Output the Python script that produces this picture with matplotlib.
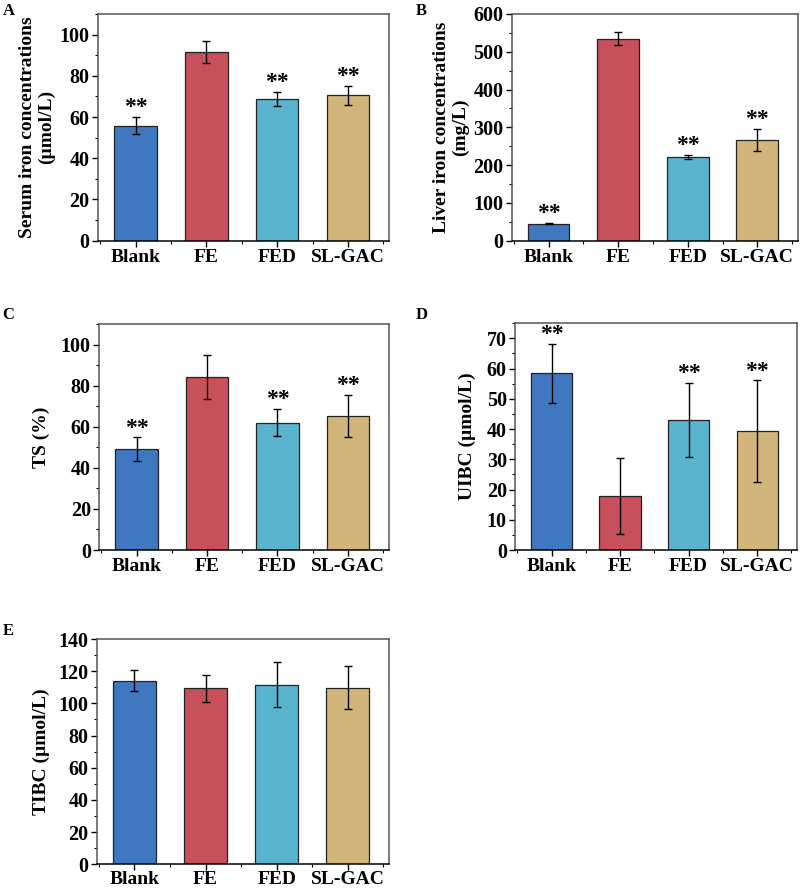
import matplotlib
matplotlib.use("Agg")
import matplotlib.pyplot as plt
from matplotlib.ticker import MultipleLocator, AutoMinorLocator
import numpy as np

groups = ["Blank", "FE", "FED", "SL-GAC"]
colors = ["#3F78C0", "#C8505A", "#5BB4CE", "#D2B57B"]

serum_iron = [55.8, 91.6, 68.7, 70.5]
serum_iron_err = [4.2, 5.4, 3.4, 4.5]
serum_iron_sig = ["**", "", "**", "**"]

liver_iron = [45, 535, 221, 266]
liver_iron_err = [2, 18, 6, 30]
liver_iron_sig = ["**", "", "**", "**"]

ts = [49.1, 84.3, 62.0, 65.3]
ts_err = [5.8, 10.8, 6.7, 10.3]
ts_sig = ["**", "", "**", "**"]

uibc = [58.4, 17.9, 43.1, 39.3]
uibc_err = [9.8, 12.6, 12.2, 16.8]
uibc_sig = ["**", "", "**", "**"]

tibc = [114.2, 109.3, 111.6, 109.8]
tibc_err = [6.8, 8.3, 14.0, 13.2]
tibc_sig = ["", "", "", ""]

plt.rcParams["font.family"] = ["Liberation Serif", "DejaVu Serif"]
plt.rcParams["font.weight"] = "bold"

fig = plt.figure(figsize=(8, 8.9), dpi=100)


def panel(rect, letter, vals, errs, sig, ylabel, ymax, ystep, letter_xy, pad=4, xpad=2):
    ax = fig.add_axes(rect)
    x = np.arange(len(groups))
    ax.bar(x, vals, width=0.6, color=colors, edgecolor="#222222", linewidth=0.9, zorder=2)
    ax.errorbar(x, vals, yerr=errs, fmt="none", ecolor="black", elinewidth=1.0,
                capsize=3, capthick=1.0, zorder=3)
    for xi, v, e, s in zip(x, vals, errs, sig):
        if s:
            ax.annotate(s, (xi, v + e), xytext=(0, -1), textcoords="offset points",
                        ha="center", va="bottom", fontsize=17, fontweight="bold")
    ax.set_xlim(-0.53, 3.58)
    ax.set_ylim(0, ymax)
    ax.set_xticks(x)
    ax.set_xticklabels(groups, fontsize=14, fontweight="bold")
    ax.xaxis.set_minor_locator(MultipleLocator(0.5))
    ax.yaxis.set_major_locator(MultipleLocator(ystep))
    ax.yaxis.set_minor_locator(AutoMinorLocator(2))
    ax.tick_params(axis="y", labelsize=14.5, direction="out", length=4, width=1, pad=2)
    ax.tick_params(axis="x", direction="out", length=4, width=1, pad=xpad)
    ax.tick_params(which="minor", direction="out", length=2, width=0.8)
    for lab in ax.get_yticklabels():
        lab.set_fontweight("bold")
    ax.set_ylabel(ylabel, fontsize=14, fontweight="bold", linespacing=1.15, labelpad=pad)
    for sp in ["top", "right", "left"]:
        ax.spines[sp].set_color("#555555")
    ax.spines["bottom"].set_color("black")
    for sp in ax.spines.values():
        sp.set_linewidth(1.1)
    fig.text(letter_xy[0], letter_xy[1], letter, fontsize=12, fontweight="bold",
             ha="left", va="top")
    return ax


panel([0.1225, 0.7296, 0.3638, 0.2547], "A", serum_iron, serum_iron_err, serum_iron_sig,
      "Serum iron concentrations\n(\u00b5mol/L)", 110, 20, (0.003, 0.997), pad=3)
panel([0.6396, 0.7296, 0.3575, 0.2547], "B", liver_iron, liver_iron_err, liver_iron_sig,
      "Liver iron concentrations\n(mg/L)", 600, 100, (0.52, 0.997), pad=3)
panel([0.1240, 0.3820, 0.3620, 0.2540], "C", ts, ts_err, ts_sig,
      "TS (%)", 110, 20, (0.003, 0.655), pad=8)
panel([0.6440, 0.3820, 0.3520, 0.2548], "D", uibc, uibc_err, uibc_sig,
      "UIBC (\u00b5mol/L)", 75, 10, (0.52, 0.655), pad=8)
panel([0.1210, 0.0290, 0.3652, 0.2530], "E", tibc, tibc_err, tibc_sig,
      "TIBC (\u00b5mol/L)", 140, 20, (0.003, 0.30), pad=6, xpad=1)

fig.savefig("out.png", dpi=100)
